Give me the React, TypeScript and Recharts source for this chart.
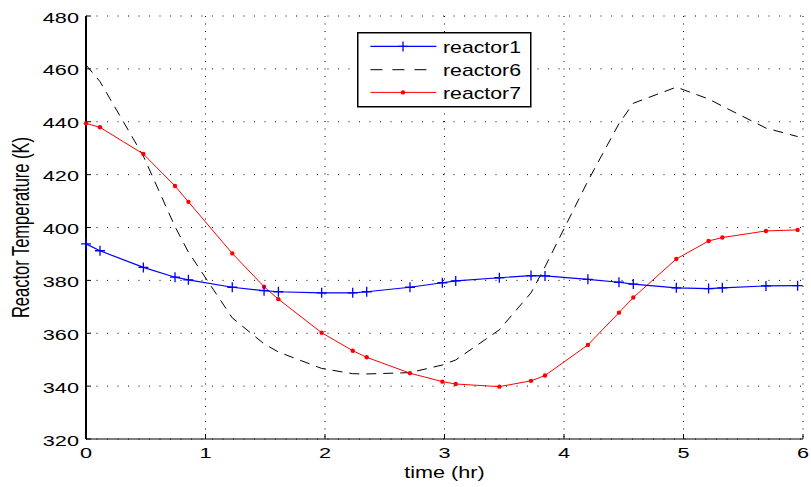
import { CartesianGrid, Legend, Line, LineChart, XAxis, YAxis } from 'recharts';

const times = [0, 0.117, 0.48, 0.745, 0.857, 1.224, 1.49, 1.61, 1.972, 2.232, 2.349, 2.711, 2.982, 3.094, 3.459, 3.724, 3.841, 4.2, 4.46, 4.58, 4.94, 5.21, 5.325, 5.69, 5.955];
const reactor1 = [393.8, 391.2, 384.9, 381.2, 380.2, 377.4, 376.1, 375.7, 375.3, 375.3, 375.7, 377.4, 379.1, 379.8, 381.0, 381.8, 381.7, 380.4, 379.3, 378.6, 377.2, 376.9, 377.2, 377.9, 378.0];
const reactor6 = [461.5, 455.2, 427, 400.3, 390.7, 365.8, 356, 352.9, 346.7, 344.7, 344.6, 345.1, 348, 349.9, 361.3, 375.3, 385.1, 417.6, 439.3, 447, 453.1, 448.6, 445.9, 437.6, 434.4];
const reactor7 = [439.4, 437.9, 427.8, 415.7, 409.7, 390.2, 377.6, 372.9, 360.2, 353.4, 350.9, 344.9, 341.7, 340.8, 339.8, 342.0, 344.0, 355.6, 367.8, 373.5, 388.1, 394.9, 396.2, 398.7, 399.1];

const xTicks = [0, 1, 2, 3, 4, 5, 6];
const yTicks = [320, 340, 360, 380, 400, 420, 440, 460, 480];
const seriesNames = ['reactor1', 'reactor6', 'reactor7'];

const data = times.map((t, i) => ({
  t,
  reactor1: reactor1[i],
  reactor6: reactor6[i],
  reactor7: reactor7[i],
}));

const FONT = '"Liberation Sans", Arial, Helvetica, sans-serif';

function PlusDot({ cx, cy }: any) {
  if (cx == null || cy == null) return null;
  return (
    <path
      d={`M${cx - 5},${cy}H${cx + 5}M${cx},${cy - 5}V${cy + 5}`}
      stroke="#0000ff"
      strokeWidth={1.3}
      fill="none"
    />
  );
}

function XTick({ x, payload }: any) {
  return (
    <text transform={`translate(${x},458) scale(1.55,1)`} textAnchor="middle" fontSize={14} fontFamily={FONT} fill="#000">
      {payload.value}
    </text>
  );
}

function YTick({ y, payload }: any) {
  return (
    <text transform={`translate(79,${y + 6.5}) scale(1.55,1)`} textAnchor="end" fontSize={14} fontFamily={FONT} fill="#000">
      {payload.value}
    </text>
  );
}

function XLabel() {
  return (
    <text transform="translate(444.5,478.3) scale(1.35,1)" textAnchor="middle" fontSize={16} fontFamily={FONT} fill="#000">
      time (hr)
    </text>
  );
}

function YLabel() {
  return (
    <text transform="translate(22.5,227.5) rotate(-90) scale(1,1.4)" y={4.5} textAnchor="middle" fontSize={16.5} fontFamily={FONT} fill="#000">
      Reactor Temperature (K)
    </text>
  );
}

function LegendBox() {
  const rows = [14.4, 37.7, 60.4];
  return (
    <svg width={175} height={76} style={{ display: 'block' }}>
      <rect x={0.75} y={0.75} width={173} height={74} fill="#fff" stroke="#000" strokeWidth={1.5} />
      <line x1={13.4} x2={79.4} y1={rows[0]} y2={rows[0]} stroke="#0000ff" strokeWidth={1.2} />
      <PlusDot cx={46} cy={rows[0]} />
      <line x1={13.4} x2={79.4} y1={rows[1]} y2={rows[1]} stroke="#000" strokeDasharray="12 10" />
      <line x1={13.4} x2={79.4} y1={rows[2]} y2={rows[2]} stroke="#ff0000" />
      <circle cx={46} cy={rows[2]} r={2.2} fill="#ff0000" />
      {seriesNames.map((name, i) => (
        <text key={name} transform={`translate(86,${rows[i] + 6.6}) scale(1.33,1)`} fontSize={16} fontFamily={FONT} fill="#000">
          {name}
        </text>
      ))}
    </svg>
  );
}

export default function App() {
  return (
    <div style={{ width: 811, height: 487, background: '#fff' }}>
      <style>{'body{margin:0;background:#fff}'}</style>
      <LineChart width={811} height={487} data={data} margin={{ top: 16, right: 8, bottom: 0, left: 0 }}>
        <CartesianGrid vertical={false} stroke="#000" strokeDasharray="1 9.5" />
        <CartesianGrid horizontal={false} stroke="#000" strokeDasharray="1 6.5" />
        <XAxis
          dataKey="t"
          type="number"
          domain={[0, 6]}
          ticks={xTicks}
          interval={0}
          height={48}
          tick={<XTick />}
          tickSize={-5}
          axisLine={{ stroke: '#000' }}
          tickLine={{ stroke: '#000' }}
          label={<XLabel />}
        />
        <XAxis
          xAxisId="top"
          orientation="top"
          dataKey="t"
          type="number"
          domain={[0, 6]}
          ticks={xTicks}
          interval={0}
          height={0}
          tick={false}
          tickSize={-5}
          axisLine={{ stroke: '#000' }}
          tickLine={{ stroke: '#000' }}
        />
        <YAxis
          type="number"
          domain={[320, 480]}
          ticks={yTicks}
          interval={0}
          width={86}
          tick={<YTick />}
          tickSize={-5}
          axisLine={{ stroke: '#000', strokeWidth: 2 }}
          tickLine={{ stroke: '#000' }}
          label={<YLabel />}
        />
        <YAxis
          yAxisId="right"
          orientation="right"
          type="number"
          domain={[320, 480]}
          ticks={yTicks}
          interval={0}
          width={0}
          tick={false}
          tickSize={-5}
          axisLine={{ stroke: '#000', strokeWidth: 2 }}
          tickLine={{ stroke: '#000' }}
        />
        <Line type="linear" dataKey="reactor6" stroke="#000" strokeWidth={1} strokeDasharray="10 7" dot={false} activeDot={false} isAnimationActive={false} />
        <Line type="linear" dataKey="reactor7" stroke="#ff0000" strokeWidth={1} dot={{ r: 2.2, fill: '#ff0000', stroke: 'none' }} activeDot={false} isAnimationActive={false} />
        <Line type="linear" dataKey="reactor1" stroke="#0000ff" strokeWidth={1.2} dot={<PlusDot />} activeDot={false} isAnimationActive={false} />
        <Legend
          layout="vertical"
          align="center"
          verticalAlign="middle"
          wrapperStyle={{ left: 357, top: 32, width: 175, height: 76 }}
          content={<LegendBox />}
        />
      </LineChart>
    </div>
  );
}
